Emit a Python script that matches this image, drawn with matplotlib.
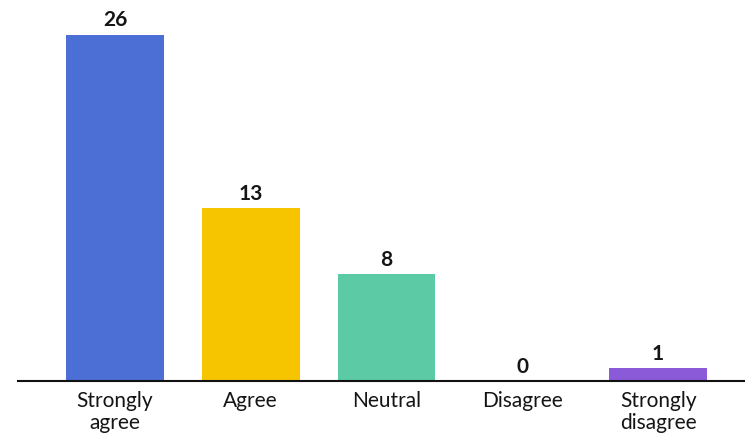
import matplotlib.pyplot as plt

plt.rcParams['font.family'] = ['Lato', 'DejaVu Sans']

categories = ["Strongly\nagree", "Agree", "Neutral", "Disagree", "Strongly\ndisagree"]
counts = [26, 13, 8, 0, 1]
colors = ["#4b6fd5", "#f6c500", "#5ccaa5", "#4b6fd5", "#8a5ad8"]

fig = plt.figure(figsize=(7.45, 4.38), dpi=100)
ax = fig.add_axes([0.024, 0.130, 0.976, 0.870])

x = range(len(categories))
bars = ax.bar(x, counts, width=0.72, color=colors)

for rect, val in zip(bars, counts):
    ax.annotate(str(val), (rect.get_x() + rect.get_width() / 2, rect.get_height()),
                xytext=(0, 3), textcoords="offset points",
                ha="center", va="bottom", fontsize=15, fontweight="bold", color="#151515")

ax.set_xlim(-0.715, 4.64)
ax.set_ylim(0, 28.6)
ax.set_xticks(list(x))
ax.set_xticklabels(categories, fontsize=15, linespacing=1.15, color="#151515")
ax.tick_params(axis="x", length=0, pad=7)
ax.set_yticks([])

for side in ["top", "right", "left"]:
    ax.spines[side].set_visible(False)
ax.spines["bottom"].set_linewidth(1.5)
ax.spines["bottom"].set_color("#111111")

fig.savefig("out.png", dpi=100, facecolor="white")
plt.close(fig)
